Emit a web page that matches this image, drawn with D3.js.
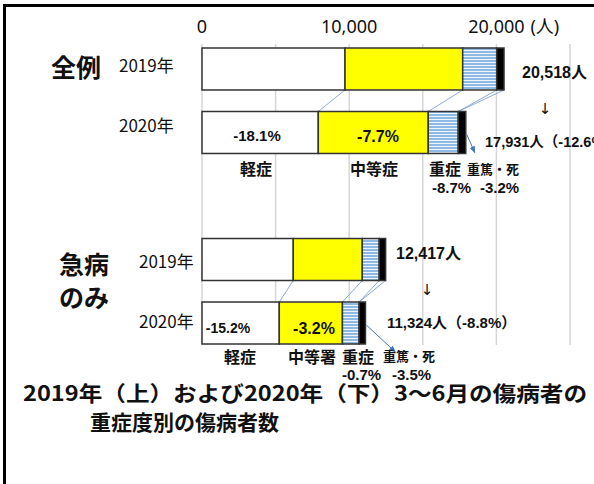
<!DOCTYPE html>
<html>
<head>
<meta charset="utf-8">
<script src="https://cdn.jsdelivr.net/npm/d3@7"></script>
<style>
body { margin: 0; background: #fff; }
svg { display: block; }
text { font-family: "Liberation Sans", "Noto Sans CJK JP", sans-serif; fill: #111; }
.jp { font-family: "Noto Sans CJK JP", sans-serif; }
.arr { font-family: "DejaVu Sans", sans-serif; }
</style>
</head>
<body>
<div id="container"></div>
<script>
// data
var rows = ["all2019", "all2020", "gap", "ill2019", "ill2020"];
var yearLabels = ["2019年", "2020年"];
var severities = ["軽症", "中等症", "重症", "重篤・死"];
var allCases2019 = [9715, 7996, 2310, 497];
var allCases2020 = [7900, 7470, 2040, 510];
var illness2019 = [6200, 4690, 1150, 435];
var illness2020 = [5250, 4290, 1135, 430];
var allChanges = ["-18.1%", "-7.7%", "-8.7%", "-3.2%"];
var illChanges = ["-15.2%", "-3.2%", "-0.7%", "-3.5%"];
var illSeverityLabels = ["軽症", "中等署", "重症", "重篤・死"];
var totalLabels = ["20,518人", "17,931人（-12.6%）", "12,417人", "11,324人（-8.8%）"];
var tickValues = [0, 10000, 20000];
var gridValues = [0, 5000, 10000, 15000, 20000, 25000];

var w = 594, h = 484;

var svg = d3.select("#container").append("svg")
	.attr("width", w)
	.attr("height", h);

var defs = svg.append("defs");
var pat = defs.append("pattern") //striped blue for 重症
	.attr("id", "stripes")
	.attr("patternUnits", "userSpaceOnUse")
	.attr("width", 4).attr("height", 3);
pat.append("rect").attr("width", 4).attr("height", 3).attr("fill", "#8db9e2");
pat.append("rect").attr("y", 2).attr("width", 4).attr("height", 1).attr("fill", "#eef5fc");

defs.append("marker")
	.attr("id", "arrow")
	.attr("viewBox", "0 0 10 10")
	.attr("refX", 9).attr("refY", 5)
	.attr("markerWidth", 7).attr("markerHeight", 7)
	.attr("orient", "auto")
  .append("path")
	.attr("d", "M0,1 L10,5 L0,9 z")
	.attr("fill", "#4472c4");

var x = d3.scaleLinear().domain([0, 25000]).range([202, 570]);
var y = d3.scaleBand().domain(rows).range([48, 344]).paddingInner(0.339).paddingOuter(0);

// frame
svg.append("line").attr("x1", 4.5).attr("x2", 4.5).attr("y1", 4).attr("y2", h)
	.attr("stroke", "#000").attr("stroke-width", 3);
svg.append("line").attr("x1", 3).attr("x2", w).attr("y1", 5.5).attr("y2", 5.5)
	.attr("stroke", "#000").attr("stroke-width", 3);

// gridlines
svg.selectAll("line.grid")
	.data(gridValues)
  .enter().append("line")
	.attr("class", "grid")
	.attr("x1", function(d) { return x(d); })
	.attr("x2", function(d) { return x(d); })
	.attr("y1", 44)
	.attr("y2", 345)
	.attr("stroke", "#d6d6d6")
	.attr("stroke-width", 1.5);

// tick labels
svg.selectAll("text.tick")
	.data(tickValues)
  .enter().append("text")
	.attr("class", "tick")
	.attr("x", function(d) { return x(d); })
	.attr("y", 33)
	.attr("text-anchor", "middle")
	.attr("font-size", 18)
	.style("font-family", "'Noto Sans', 'Noto Sans CJK JP'")
	.text(function(d) { return d3.format(",")(d); });
svg.append("text").attr("x", x(20000) + 34).attr("y", 33)
	.attr("font-size", 18)
	.style("font-family", "'Noto Sans', 'Noto Sans CJK JP'")
	.text("(人)");

var barData = [
	{ row: "all2019", vals: allCases2019 },
	{ row: "all2020", vals: allCases2020 },
	{ row: "ill2019", vals: illness2019 },
	{ row: "ill2020", vals: illness2020 }
];
var fills = ["#ffffff", "#ffff00", "url(#stripes)", "#000000"];

barData.forEach(function(b) {
	var acc = 0;
	b.segs = b.vals.map(function(v, i) {
		var s = { x0: acc, x1: acc + v, i: i };
		acc += v;
		return s;
	});
});

// connector lines between 2019 and 2020 bars
function connect(top, bottom) {
	var yTop = y(top.row) + y.bandwidth(), yBot = y(bottom.row);
	var pairs = [];
	for (var i = 1; i < 4; i++) pairs.push([top.segs[i].x0, bottom.segs[i].x0]);
	pairs.push([top.segs[3].x1, bottom.segs[3].x0 + 2]);
	svg.selectAll(null)
		.data(pairs)
	  .enter().append("line")
		.attr("x1", function(d) { return x(d[0]); })
		.attr("y1", yTop)
		.attr("x2", function(d) { return x(d[1]); })
		.attr("y2", yBot)
		.attr("stroke", "#7f9fd6")
		.attr("stroke-width", 0.9);
}
connect(barData[0], barData[1]);
connect(barData[2], barData[3]);

barData.forEach(function(b) {
	svg.selectAll(null)
		.data(b.segs)
	  .enter().append("rect")
		.attr("x", function(d) { return x(d.x0); })
		.attr("y", y(b.row))
		.attr("width", function(d) { return x(d.x1) - x(d.x0); })
		.attr("height", y.bandwidth())
		.attr("fill", function(d) { return fills[d.i]; })
		.attr("stroke", "#333")
		.attr("stroke-width", 1.5);
});

// arrows from 重篤・死 of 2020 bars
function arrow(b, dx, dy) {
	var s = b.segs[3];
	var x0 = x(s.x1) + 1, y0 = y(b.row) + y.bandwidth() * 0.55;
	svg.append("line")
		.attr("x1", x0).attr("y1", y0)
		.attr("x2", x0 + dx).attr("y2", y0 + dy)
		.attr("stroke", "#4472c4").attr("stroke-width", 1)
		.attr("marker-end", "url(#arrow)");
}
arrow(barData[1], 8, 18);
arrow(barData[3], 29, 27);

function txt(t, px, py, size, weight, anchor, cls) {
	return svg.append("text")
		.attr("x", px).attr("y", py)
		.attr("font-size", size)
		.attr("font-weight", weight || "normal")
		.attr("text-anchor", anchor || "start")
		.attr("class", cls || null)
		.text(t);
}

// left labels
txt("全例", 51, 77, 25, "bold", "start", "jp");
txt("急病", 59, 274, 25, "bold", "start", "jp");
txt("のみ", 59, 307, 25, "bold", "start", "jp");
txt(yearLabels[0], 119, 72, 17, "normal", "start", "jp");
txt(yearLabels[1], 119, 132, 17, "normal", "start", "jp");
txt(yearLabels[0], 139, 268, 17, "normal", "start", "jp");
txt(yearLabels[1], 139, 328, 17, "normal", "start", "jp");

// change labels inside bars
txt(allChanges[0], 257, 141, 15, "bold", "middle");
txt(allChanges[1], 378, 142, 16, "bold", "middle");
txt(illChanges[0], 228, 333, 14, "bold", "middle");
txt(illChanges[1], 314, 334, 16, "bold", "middle");

// severity labels under 全例
txt(severities[0], 256, 175, 16, "bold", "middle", "jp");
txt(severities[1], 350, 175, 16, "bold", "start", "jp");
txt(severities[2], 429, 175, 16, "bold", "start", "jp");
txt(severities[3], 467, 174, 13, "bold", "start", "jp");
txt(allChanges[2], 432, 193, 15, "bold", "start");
txt(allChanges[3], 480, 193, 15, "bold", "start");

// severity labels under 急病のみ
txt(illSeverityLabels[0], 240, 363, 16, "bold", "middle", "jp");
txt(illSeverityLabels[1], 288, 363, 16, "bold", "start", "jp");
txt(illSeverityLabels[2], 342, 363, 16, "bold", "start", "jp");
txt(illSeverityLabels[3], 383, 361, 13, "bold", "start", "jp");
txt(illChanges[2], 342, 380, 15, "bold", "start");
txt(illChanges[3], 392, 380, 15, "bold", "start");

// totals on the right
txt(totalLabels[0], 522, 78, 16, "bold", "start");
txt("↓", 545, 114, 15, "normal", "middle", "arr");
txt(totalLabels[1], 485, 147, 14.5, "bold", "start");
txt(totalLabels[2], 396, 259, 16, "bold", "start");
txt("↓", 427, 295, 15, "normal", "middle", "arr");
txt(totalLabels[3], 387, 328, 15, "bold", "start");

// caption
txt("2019年（上）および2020年（下）3〜6月の傷病者の", 23, 401, 21, "bold", "start", "jp")
	.attr("textLength", 564).attr("lengthAdjust", "spacingAndGlyphs");
txt("重症度別の傷病者数", 90, 430, 21, "bold", "start", "jp");
</script>
</body>
</html>
